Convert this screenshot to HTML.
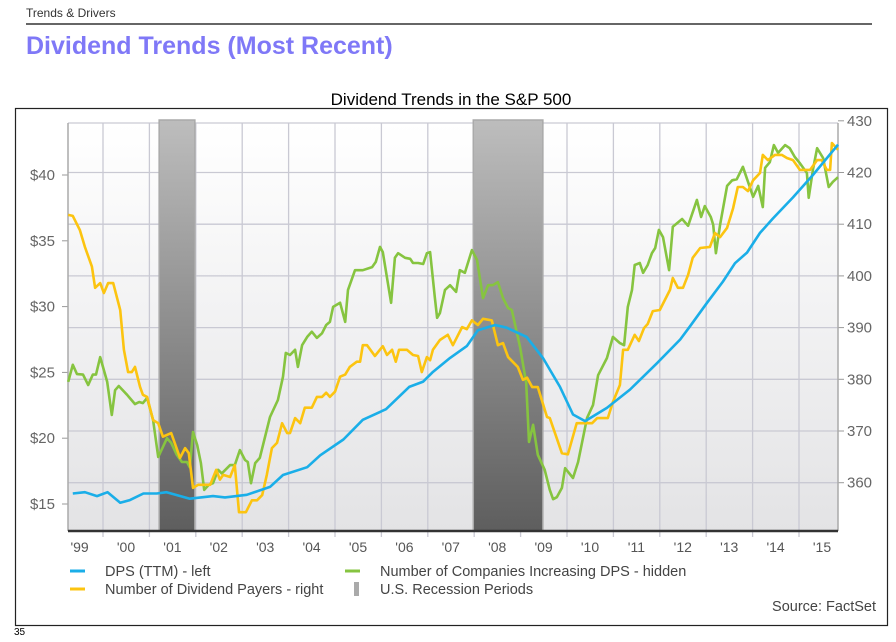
<!DOCTYPE html>
<html><head><meta charset="utf-8"><style>
body{margin:0;background:#fff;width:896px;height:642px;overflow:hidden;font-family:"Liberation Sans",sans-serif;}
#wrap{position:relative;width:896px;height:642px;}
.t{position:absolute;white-space:nowrap;}
</style></head><body><div id="wrap">
<div class="t" style="left:26px;top:6px;font-size:12px;color:#333;">Trends &amp; Drivers</div>
<div style="position:absolute;left:26px;top:23px;width:846px;height:2px;background:#666;"></div>
<div class="t" style="left:26px;top:32px;font-size:25px;font-weight:bold;color:#7f78f7;">Dividend Trends (Most Recent)</div>
<div class="t" style="left:14px;top:627px;font-size:10px;color:#000;">35</div>
<svg id="chart" width="896" height="642" style="position:absolute;left:0;top:0" font-family="Liberation Sans, sans-serif">
<defs>
<linearGradient id="bg" x1="0" y1="0" x2="0" y2="1"><stop offset="0" stop-color="#ffffff"/><stop offset="1" stop-color="#e3e3e5"/></linearGradient>
<linearGradient id="rec" x1="0" y1="0" x2="0" y2="1"><stop offset="0" stop-color="#bdbdbd"/><stop offset="1" stop-color="#5e5e5e"/></linearGradient>
</defs>
<text x="451" y="105" font-size="17" text-anchor="middle" fill="#000">Dividend Trends in the S&amp;P 500</text>
<rect x="15.5" y="108.5" width="872" height="517" fill="none" stroke="#222" stroke-width="1.2"/>
<g id="g"></g>
</svg>
</div>
<script>
const recStart=[2001.21,2007.98];
const recEnd=[2001.98,2009.48];
const leftTicks=[15,20,25,30,35,40];
const rightTicks=[360,370,380,390,400,410,420,430];
const yearLabels=["'99","'00","'01","'02","'03","'04","'05","'06","'07","'08","'09","'10","'11","'12","'13","'14","'15"];
const dpsYears=[1999.35,1999.61,1999.87,2000.1,2000.37,2000.58,2000.87,2001.16,2001.37,2001.87,2002.37,2002.63,2003.1,2003.6,2003.88,2004.4,2004.68,2005.18,2005.6,2006.1,2006.6,2006.9,2007.1,2007.48,2007.84,2008.08,2008.45,2008.7,2009.13,2009.48,2009.85,2010.13,2010.39,2010.86,2011.36,2011.94,2012.44,2012.65,2013.02,2013.36,2013.62,2013.88,2014.16,2014.44,2014.87,2015.3,2015.84];
const dpsValues=[15.8,15.9,15.6,15.9,15.1,15.3,15.8,15.8,15.9,15.4,15.6,15.5,15.7,16.3,17.2,17.8,18.7,19.9,21.4,22.2,23.9,24.3,25.0,26.1,27.0,28.2,28.6,28.4,27.7,26.1,23.9,21.8,21.3,22.3,23.7,25.7,27.5,28.5,30.3,31.9,33.3,34.1,35.6,36.7,38.3,40.0,42.3];
const payersYears=[1999.25,1999.35,1999.50,1999.61,1999.76,1999.83,1999.94,2000.02,2000.11,2000.22,2000.37,2000.45,2000.54,2000.62,2000.69,2000.80,2000.86,2000.95,2001.08,2001.19,2001.29,2001.47,2001.66,2001.77,2001.85,2001.94,2002.05,2002.31,2002.44,2002.52,2002.59,2002.74,2002.84,2002.93,2003.08,2003.21,2003.32,2003.43,2003.53,2003.64,2003.75,2003.86,2003.97,2004.03,2004.14,2004.25,2004.35,2004.50,2004.61,2004.72,2004.81,2004.89,2005.00,2005.11,2005.22,2005.32,2005.47,2005.54,2005.60,2005.69,2005.86,2006.03,2006.12,2006.23,2006.31,2006.38,2006.55,2006.68,2006.79,2006.87,2006.98,2007.05,2007.11,2007.26,2007.43,2007.54,2007.74,2007.84,2007.95,2008.08,2008.19,2008.38,2008.51,2008.62,2008.73,2008.94,2009.05,2009.14,2009.25,2009.37,2009.57,2009.63,2009.89,2010.02,2010.21,2010.54,2010.65,2010.88,2010.99,2011.14,2011.21,2011.31,2011.46,2011.55,2011.66,2011.74,2011.85,2012.00,2012.22,2012.28,2012.39,2012.50,2012.61,2012.71,2012.87,2013.08,2013.19,2013.30,2013.45,2013.58,2013.68,2013.79,2013.90,2014.01,2014.16,2014.22,2014.33,2014.48,2014.63,2014.74,2014.87,2015.02,2015.24,2015.39,2015.49,2015.60,2015.67,2015.71,2015.84];
const payersValues=[411.8,411.6,408.9,405.6,401.8,397.7,398.6,396.7,398.6,398.6,393.4,385.7,381.4,381.4,382.4,378.5,377.0,376.6,372.1,371.5,368.9,369.6,364.8,366.7,365.7,359.0,359.6,359.6,362.5,360.6,361.5,361.1,363.4,354.3,354.3,356.6,356.6,357.6,361.5,366.7,367.7,371.5,369.6,369.6,372.5,371.5,374.5,374.5,376.6,376.6,377.4,376.6,377.6,380.5,380.9,382.4,383.4,383.4,386.6,386.6,384.5,386.4,384.7,385.7,383.4,385.7,385.7,384.7,384.5,381.4,384.3,383.7,385.7,387.6,388.6,386.6,390.1,389.7,391.4,390.5,391.7,391.4,386.6,387.0,384.3,382.4,379.9,380.3,378.5,378.5,372.7,372.5,365.7,365.5,371.5,371.5,372.5,372.5,375.6,378.9,385.7,385.7,388.6,387.4,389.9,390.7,393.2,393.4,397.3,399.6,397.7,397.7,400.2,403.5,405.4,405.6,408.3,407.5,409.3,413.1,417.2,417.2,416.4,418.5,419.9,423.4,422.4,423.4,423.4,422.8,422.4,420.5,420.5,422.4,422.4,420.5,420.5,425.7,424.4];
const incYears=[1999.25,1999.35,1999.44,1999.57,1999.68,1999.78,1999.85,1999.94,2000.09,2000.19,2000.26,2000.34,2000.52,2000.69,2000.78,2000.86,2000.95,2001.08,2001.19,2001.29,2001.38,2001.47,2001.59,2001.70,2001.81,2001.87,2001.94,2002.03,2002.11,2002.18,2002.28,2002.37,2002.48,2002.56,2002.74,2002.84,2002.95,2003.06,2003.12,2003.19,2003.28,2003.38,2003.60,2003.77,2003.88,2003.94,2004.03,2004.14,2004.20,2004.29,2004.40,2004.50,2004.61,2004.72,2004.81,2004.89,2004.96,2005.11,2005.22,2005.28,2005.43,2005.60,2005.80,2005.88,2005.97,2006.03,2006.21,2006.29,2006.36,2006.51,2006.62,2006.68,2006.79,2006.90,2006.98,2007.05,2007.15,2007.20,2007.26,2007.37,2007.48,2007.61,2007.69,2007.80,2007.95,2008.06,2008.19,2008.30,2008.40,2008.51,2008.62,2008.73,2008.81,2008.99,2009.12,2009.18,2009.27,2009.37,2009.52,2009.63,2009.70,2009.78,2009.89,2009.96,2010.13,2010.24,2010.43,2010.56,2010.67,2010.86,2010.99,2011.14,2011.23,2011.31,2011.40,2011.46,2011.57,2011.64,2011.74,2011.83,2011.90,2011.98,2012.07,2012.20,2012.28,2012.48,2012.61,2012.80,2012.89,2012.97,2013.10,2013.15,2013.21,2013.30,2013.45,2013.56,2013.66,2013.79,2013.90,2014.01,2014.12,2014.22,2014.27,2014.37,2014.46,2014.55,2014.70,2014.80,2014.91,2015.02,2015.17,2015.21,2015.30,2015.39,2015.52,2015.64,2015.73,2015.84];
const incValues=[379.5,382.8,381.0,380.9,378.9,380.9,380.9,384.3,379.5,373.1,377.9,378.7,377.0,375.2,375.6,375.4,376.4,372.1,365.0,366.9,368.6,367.7,365.4,364.0,364.0,363.0,369.8,367.3,363.8,358.6,359.6,359.9,362.5,361.8,363.4,363.4,366.3,364.4,364.0,359.9,363.8,364.8,372.7,376.0,380.5,385.1,384.7,385.7,382.4,386.6,388.2,389.2,388.0,388.9,390.5,391.1,394.0,394.8,391.1,397.3,401.1,401.1,401.7,402.7,405.6,404.6,394.8,403.5,404.4,403.5,403.3,402.5,402.5,402.3,404.4,404.6,395.9,391.9,392.8,397.3,398.2,396.9,401.1,400.6,405.0,403.1,395.7,398.2,398.2,398.8,395.7,393.8,393.4,386.2,379.3,367.9,371.2,365.4,362.5,358.6,356.8,357.2,359.0,362.8,360.9,364.0,372.5,375.0,380.8,384.1,388.2,387.0,386.6,394.0,397.3,402.1,402.5,400.6,402.1,404.4,405.4,408.9,407.5,401.1,409.5,411.0,409.7,414.7,411.4,413.5,411.4,409.9,404.4,409.9,417.4,418.5,418.7,421.1,418.2,415.3,417.4,413.3,420.9,422.0,425.3,423.8,425.3,424.7,423.0,421.8,419.9,415.1,420.5,424.7,422.8,417.2,418.2,419.1];

const NS='http://www.w3.org/2000/svg';
const PL=68,PR=838,PT=123,PB=531;
function xs(y){return 103+(y-2000)*46.4;}
function yl(v){return 175+(40-v)*13.16;}
function yr(v){return 172.5+(420-v)*5.17;}
const g=document.getElementById('g');
function mk(tag,attrs,parent){const e=document.createElementNS(NS,tag);for(const k in attrs)e.setAttribute(k,attrs[k]);(parent||g).appendChild(e);return e;}

const bg=mk('rect',{x:PL,y:PT,width:PR-PL,height:PB-PT,fill:'url(#bg)'});



rightTicks.forEach(v=>{
  const y=yr(v);
  if(y<PB&&v<430){const l=mk('line',{x1:PL,x2:PR,y1:y,y2:y,stroke:'#c9c9d3','stroke-width':1.3});
  
  }
  const tk=mk('line',{x1:PR,x2:PR+6,y1:y,y2:y,stroke:'#999'});
  
  
  const t=mk('text',{x:PR+9,y:y+5,'font-size':15,fill:'#666'});t.textContent=v;
  
  
});
const topLine=mk('line',{x1:PL,x2:PR,y1:PT,y2:PT,stroke:'#c9c9d3','stroke-width':1.3});


for(let yy=2000;yy<=2015;yy++){
  const x=xs(yy);
  const l=mk('line',{x1:x,x2:x,y1:PT,y2:PB+6,stroke:'#c9c9d3','stroke-width':1.3});
  
  
}
yearLabels.forEach((lb,i)=>{
  const t=mk('text',{x:xs(1999+i)+23,y:552,'font-size':14,fill:'#555','text-anchor':'middle'});t.textContent=lb;
  
  
});
recStart.forEach((s,i)=>{
  const r=mk('rect',{x:xs(s),y:PT-3,width:xs(recEnd[i])-xs(s),height:PB-PT+3,fill:'url(#rec)',stroke:'#aaa','stroke-width':1.5});
  
  
});
leftTicks.forEach(v=>{
  const y=yl(v);
  const tk=mk('line',{x1:PL-6,x2:PL,y1:y,y2:y,stroke:'#999'});
  
  
  const t=mk('text',{x:PL-13,y:y+5,'font-size':15,fill:'#666','text-anchor':'end'});t.textContent='$'+v;
  
  
});
const la=mk('line',{x1:PL,x2:PL,y1:PT,y2:PB,stroke:'#aaa','stroke-width':1.5});


const ra=mk('line',{x1:PR,x2:PR,y1:PT,y2:PB,stroke:'#aaa','stroke-width':1.5});


const ba=mk('line',{x1:PL,x2:PR,y1:PB,y2:PB,stroke:'#333','stroke-width':2.5});



function series(xsArr,vals,fy,color,name){
  const d=xsArr.map((t,i)=>(i?'L':'M')+xs(t).toFixed(1)+','+fy(vals[i]).toFixed(1)).join('');
  const p=mk('path',{d:d,fill:'none',stroke:color,'stroke-width':2.6,'stroke-linejoin':'round'});
  
  
}
series(incYears,incValues,yr,'#86c440','companies-increasing-dps-line');
series(payersYears,payersValues,yr,'#fcc410','dividend-payers-line');
series(dpsYears,dpsValues,yl,'#1aaee8','dps-ttm-line');

const leg=[[70,571,'#1aaee8','DPS (TTM) - left','legend-dps'],[70,589,'#fcc410','Number of Dividend Payers - right','legend-payers'],[345,571,'#86c440','Number of Companies Increasing DPS - hidden','legend-increasing']];
leg.forEach(a=>{
  const l=mk('line',{x1:a[0],x2:a[0]+15,y1:a[1],y2:a[1],stroke:a[2],'stroke-width':3});
  
  
  const t=mk('text',{x:a[0]+35,y:a[1]+5,'font-size':14.5,fill:'#444'});t.textContent=a[3];
  
  
});
const rs=mk('rect',{x:354,y:582,width:5,height:14,fill:'#aaa'});


const rt=mk('text',{x:380,y:594,'font-size':14.5,fill:'#444'});rt.textContent='U.S. Recession Periods';


const src=mk('text',{x:876,y:611,'font-size':14.5,fill:'#444','text-anchor':'end'});src.textContent='Source: FactSet';


</script>
</body></html>
